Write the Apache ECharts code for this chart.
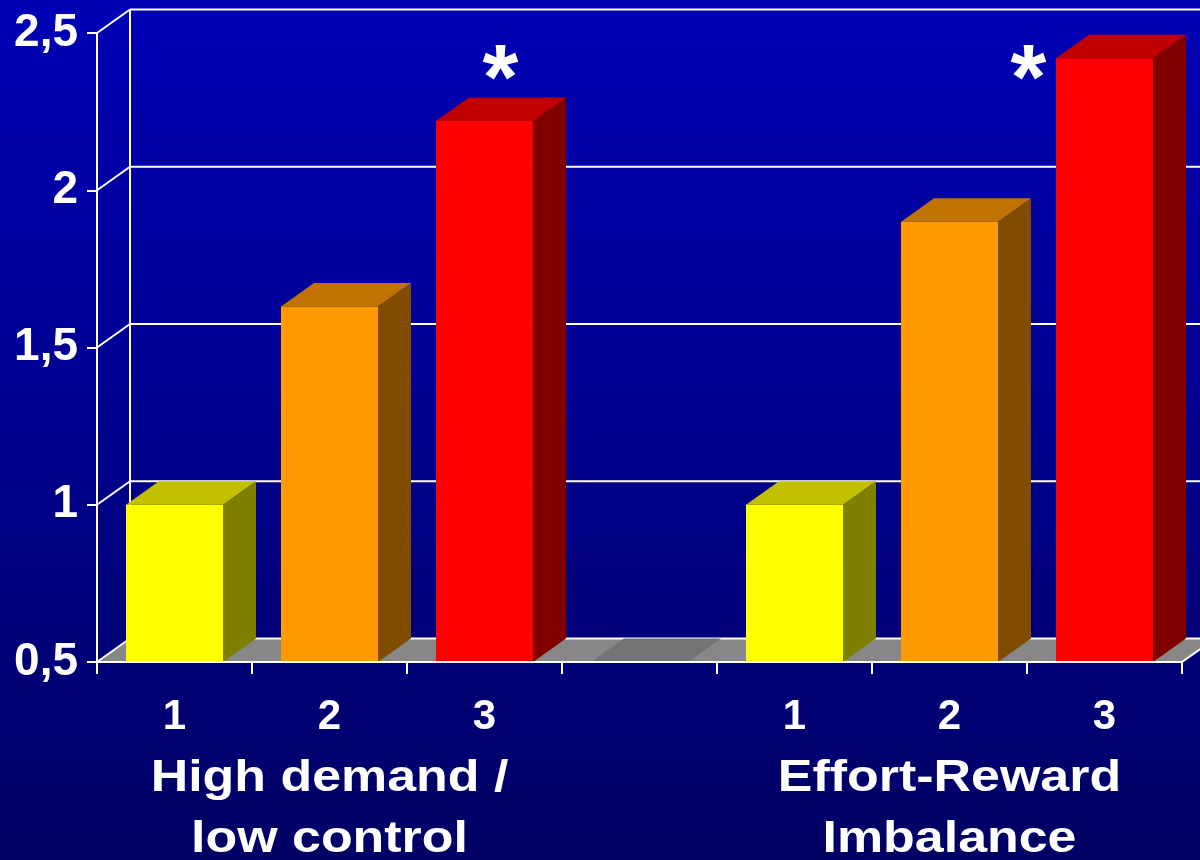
<!DOCTYPE html>
<html>
<head>
<meta charset="utf-8">
<script src="https://cdn.jsdelivr.net/npm/echarts@6/dist/echarts.min.js"></script>
<style>
  html, body { margin: 0; padding: 0; background: #000080; }
  #chart { width: 1200px; height: 860px; }
</style>
</head>
<body>
<div id="chart"></div>
<script>
// Job strain models: relative risk by exposure level
const categories = ['1', '2', '3', '', '1', '2', '3'];
const values = [1.0, 1.63, 2.22, 0.5, 1.0, 1.9, 2.42];
const stars = ['', '', '*', '', '', '', '*'];
const groupLabels = ['High demand /', 'low control', 'Effort-Reward', 'Imbalance'];
const groupAt = [1, 1, 5, 5];
const yTicks = [0.5, 1, 1.5, 2, 2.5];
const starLevel = 2.41;

// 3D look
const DEPTH_X = 33;
const DEPTH_Y = -23.5;
const BAR_FRACTION = 0.626;
const STAR_SHIFT = { 2: 16, 6: -76 };
const FONT = '"Liberation Sans", Arial, sans-serif';

const palette = {
  '1': { face: '#FFFF00', top: '#C0C000', side: '#808000' },
  '2': { face: '#FF9900', top: '#C07300', side: '#804C00' },
  '3': { face: '#FF0000', top: '#C00000', side: '#800000' },
  '':  { face: '#747474', top: '#747474', side: '#747474' }
};

const chart = echarts.init(document.getElementById('chart'), null, { renderer: 'canvas' });

function floorItem(params, api) {
  const cs = params.coordSys;
  const base = api.coord([0, yTicks[0]])[1];
  const x0 = cs.x, x1 = cs.x + cs.width;
  return {
    type: 'polygon',
    shape: { points: [[x0, base], [x1, base], [x1 + DEPTH_X, base + DEPTH_Y], [x0 + DEPTH_X, base + DEPTH_Y]] },
    style: { fill: '#878787' },
    silent: true
  };
}

function wallItem(params, api) {
  const cs = params.coordSys;
  const v = api.value(0);
  const y = api.coord([0, v])[1];
  const x0 = cs.x, x1 = cs.x + cs.width;
  const line = { stroke: '#FFFFFF', lineWidth: 2 };
  const children = [
    { type: 'line', shape: { x1: x0, y1: y, x2: x0 + DEPTH_X, y2: y + DEPTH_Y }, style: line },
    { type: 'line', shape: { x1: x0 + DEPTH_X, y1: y + DEPTH_Y, x2: x1 + DEPTH_X + 40, y2: y + DEPTH_Y }, style: line }
  ];
  if (params.dataIndex === 0) {
    const yTop = api.coord([0, yTicks[yTicks.length - 1]])[1];
    children.push({ type: 'line', shape: { x1: x0 + DEPTH_X, y1: y + DEPTH_Y, x2: x0 + DEPTH_X, y2: yTop + DEPTH_Y }, style: line });
    children.push({ type: 'line', shape: { x1: x1, y1: y, x2: x1 + DEPTH_X, y2: y + DEPTH_Y }, style: line });
  }
  return { type: 'group', children: children, silent: true };
}

function barItem(params, api) {
  const idx = api.value(0);
  const v = api.value(1);
  const top = api.coord([idx, v]);
  const base = api.coord([idx, yTicks[0]]);
  const bw = api.size([1, 0])[0] * BAR_FRACTION;
  const x0 = top[0] - bw / 2, x1 = top[0] + bw / 2;
  const yT = top[1], yB = base[1];
  const c = palette[categories[idx]];
  const children = [
    { type: 'polygon', shape: { points: [[x1, yT], [x1 + DEPTH_X, yT + DEPTH_Y], [x1 + DEPTH_X, yB + DEPTH_Y], [x1, yB]] }, style: { fill: c.side } },
    { type: 'polygon', shape: { points: [[x0, yT], [x1, yT], [x1 + DEPTH_X, yT + DEPTH_Y], [x0 + DEPTH_X, yT + DEPTH_Y]] }, style: { fill: c.top } }
  ];
  if (yB - yT > 0.5) {
    children.push({ type: 'rect', shape: { x: x0, y: yT, width: bw, height: yB - yT }, style: { fill: c.face } });
  }
  if (stars[idx]) {
    const sy = api.coord([idx, starLevel])[1];
    children.push({
      type: 'text',
      x: top[0] + (STAR_SHIFT[idx] || 0),
      y: sy + 22,
      style: { text: stars[idx], fill: '#FFFFFF', font: 'bold 92px ' + FONT, align: 'center', verticalAlign: 'middle' }
    });
  }
  return { type: 'group', children: children };
}

const option = {
  animation: false,
  backgroundColor: {
    type: 'linear', x: 0, y: 0, x2: 0, y2: 1,
    colorStops: [{ offset: 0, color: '#0000B6' }, { offset: 1, color: '#000064' }]
  },
  grid: { left: 97, right: 18, top: 33, bottom: 198, containLabel: false },
  xAxis: {
    type: 'category',
    data: categories,
    boundaryGap: true,
    axisLine: { show: true, lineStyle: { color: '#FFFFFF', width: 2 } },
    axisTick: { show: true, length: 12, inside: false, lineStyle: { color: '#FFFFFF', width: 2 } },
    axisLabel: { color: '#FFFFFF', fontFamily: FONT, fontWeight: 'bold', fontSize: 42, margin: 34, interval: 0 },
    splitLine: { show: false },
    z: 5
  },
  yAxis: {
    type: 'value',
    min: 0.5, max: 2.5, interval: 0.5,
    axisLine: { show: true, lineStyle: { color: '#FFFFFF', width: 2 } },
    axisTick: { show: true, length: 10, lineStyle: { color: '#FFFFFF', width: 2 } },
    axisLabel: {
      color: '#FFFFFF', fontFamily: FONT, fontWeight: 'bold', fontSize: 46, margin: 19,
      formatter: v => String(v).replace('.', ',')
    },
    splitLine: { show: false }
  },
  series: [
    { type: 'custom', name: 'floor', data: [[yTicks[0]]], renderItem: floorItem, clip: false, z: 1, silent: true },
    { type: 'custom', name: 'walls', data: yTicks.map(v => [v]), renderItem: wallItem, clip: false, z: 2, silent: true },
    {
      type: 'custom', name: 'risk',
      data: values.map((v, i) => [i, v]),
      encode: { x: 0, y: 1 },
      renderItem: barItem, clip: false, z: 3
    }
  ]
};

chart.setOption(option);

// group captions under the category numbers
const lineY = [779, 840, 779, 840];
chart.setOption({
  graphic: groupLabels.map((t, i) => ({
    type: 'text',
    x: chart.convertToPixel({ xAxisIndex: 0 }, groupAt[i]),
    y: lineY[i],
    scaleX: 1.18,
    style: { text: t, fill: '#FFFFFF', font: 'bold 44px ' + FONT, align: 'center', verticalAlign: 'middle' },
    silent: true
  }))
});
</script>
</body>
</html>
